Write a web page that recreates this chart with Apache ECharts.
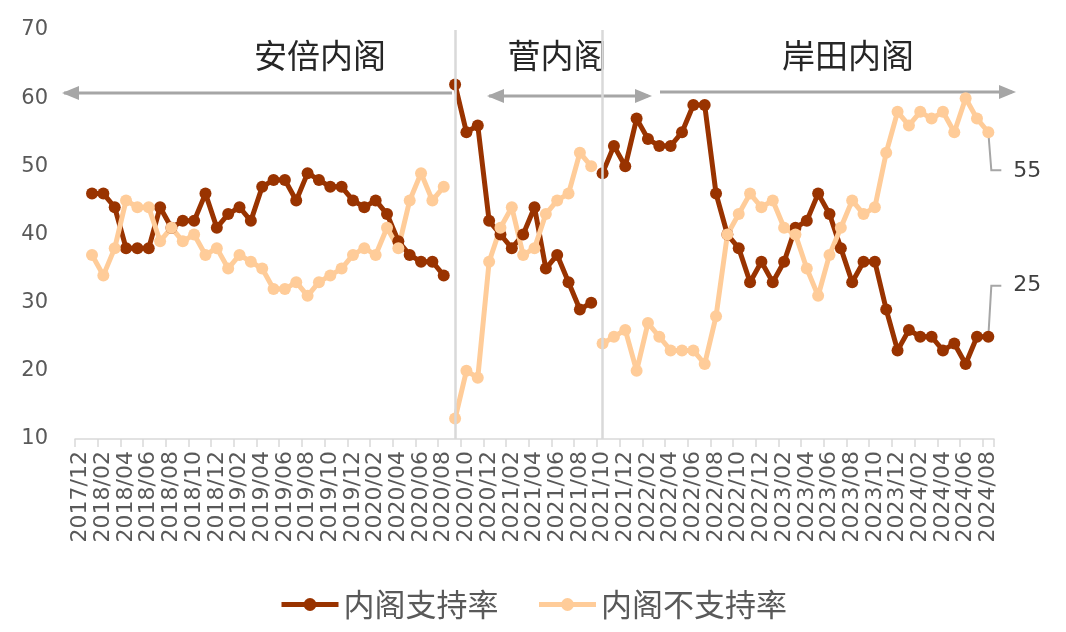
<!DOCTYPE html>
<html>
<head>
<meta charset="utf-8">
<script src="https://cdn.jsdelivr.net/npm/echarts@6/dist/echarts.min.js"></script>
<style>
  html, body { margin: 0; padding: 0; background: #fff; }
  #chart { width: 1066px; height: 632px; }
</style>
</head>
<body>
<div id="chart"></div>
<script>
// 月份（2017/12 - 2024/08）
const months = [
  '2017/12',
  '2018/01','2018/02','2018/03','2018/04','2018/05','2018/06','2018/07','2018/08','2018/09','2018/10','2018/11','2018/12',
  '2019/01','2019/02','2019/03','2019/04','2019/05','2019/06','2019/07','2019/08','2019/09','2019/10','2019/11','2019/12',
  '2020/01','2020/02','2020/03','2020/04','2020/05','2020/06','2020/07','2020/08','2020/09','2020/10','2020/11','2020/12',
  '2021/01','2021/02','2021/03','2021/04','2021/05','2021/06','2021/07','2021/08','2021/09','2021/10','2021/11','2021/12',
  '2022/01','2022/02','2022/03','2022/04','2022/05','2022/06','2022/07','2022/08','2022/09','2022/10','2022/11','2022/12',
  '2023/01','2023/02','2023/03','2023/04','2023/05','2023/06','2023/07','2023/08','2023/09','2023/10','2023/11','2023/12',
  '2024/01','2024/02','2024/03','2024/04','2024/05','2024/06','2024/07','2024/08'
]

// 各内阁起始月份
const abeStart = '2018/01'
const sugaStart = '2020/09'
const kishidaStart = '2021/10'

// 安倍内阁 2018/01 - 2020/08
const abeSupport = [46,46,44,38,38,38,44,41,42,42,46,41,43,44,42,47,48,48,45,49,48,47,47,45,44,45,43,39,37,36,36,34]
const abeOppose  = [37,34,38,45,44,44,39,41,39,40,37,38,35,37,36,35,32,32,33,31,33,34,35,37,38,37,41,38,45,49,45,47]

// 菅内阁 2020/09 - 2021/09
const sugaSupport = [62,55,56,42,40,38,40,44,35,37,33,29,30]
const sugaOppose  = [13,20,19,36,41,44,37,38,43,45,46,52,50]

// 岸田内阁 2021/10 - 2024/08
const kishidaSupport = [49,53,50,57,54,53,53,55,59,59,46,40,38,33,36,33,36,41,42,46,43,38,33,36,36,29,23,26,25,25,23,24,21,25,25]
const kishidaOppose  = [24,25,26,20,27,25,23,23,23,21,28,40,43,46,44,45,41,40,35,31,37,41,45,43,44,52,58,56,58,57,58,55,60,57,55]

const cabinetNames = ['安倍内阁', '菅内阁', '岸田内阁']
const seriesNames = ['内阁支持率', '内阁不支持率']

const darkColor = '#993300'
const lightColor = '#ffcc99'
const grayText = '#595959'

function pad(start, vals) {
  const idx = months.indexOf(start)
  return new Array(idx).fill(null).concat(vals)
}

function lineSeries(name, color, start, vals, extra) {
  return Object.assign({
    name: name,
    type: 'line',
    data: pad(start, vals),
    symbol: 'circle',
    symbolSize: 12,
    showSymbol: true,
    showAllSymbol: true,
    connectNulls: false,
    lineStyle: { width: 5, color: color },
    itemStyle: { color: color },
    emphasis: { disabled: true },
    animation: false
  }, extra || {})
}

const chart = echarts.init(document.getElementById('chart'))

chart.setOption({
  animation: false,
  textStyle: { fontFamily: '"DejaVu Sans", "Noto Sans CJK SC", sans-serif' },
  grid: { left: 75, right: 72, top: 30, bottom: 193 },
  legend: {
    data: seriesNames,
    bottom: 7,
    left: 'center',
    itemWidth: 57,
    itemHeight: 16,
    itemGap: 38,
    lineStyle: { width: 5 },
    textStyle: { fontSize: 31, color: grayText, fontFamily: '"Noto Sans CJK SC", sans-serif' }
  },
  xAxis: {
    type: 'category',
    data: months,
    boundaryGap: true,
    axisLine: { lineStyle: { color: '#d9d9d9', width: 1.5 } },
    axisTick: { show: true, interval: 1, length: 8, lineStyle: { color: '#d9d9d9', width: 1.5 } },
    axisLabel: {
      interval: 1,
      rotate: 90,
      fontSize: 22,
      color: grayText,
      margin: 12,
      fontFamily: '"DejaVu Sans", sans-serif'
    },
    splitLine: { show: false }
  },
  yAxis: {
    type: 'value',
    min: 10,
    max: 70,
    interval: 10,
    axisLine: { show: false },
    axisTick: { show: false },
    splitLine: { show: false },
    axisLabel: { fontSize: 21, color: grayText, margin: 27, fontFamily: '"DejaVu Sans", sans-serif' }
  },
  series: [
    lineSeries(seriesNames[0], darkColor, abeStart, abeSupport, {
      markLine: {
        silent: true,
        symbol: ['none', 'none'],
        label: { show: false },
        lineStyle: { color: '#d9d9d9', width: 2.5, type: 'solid' },
        data: [{ xAxis: sugaStart }, { xAxis: kishidaStart }]
      }
    }),
    lineSeries(seriesNames[0], darkColor, sugaStart, sugaSupport),
    lineSeries(seriesNames[0], darkColor, kishidaStart, kishidaSupport),
    lineSeries(seriesNames[1], lightColor, abeStart, abeOppose),
    lineSeries(seriesNames[1], lightColor, sugaStart, sugaOppose),
    lineSeries(seriesNames[1], lightColor, kishidaStart, kishidaOppose)
  ]
})

// 注释：内阁区间箭头、名称、末值标签
const arrowColor = '#a6a6a6'
function arrowHead(x, y, dir) {
  // dir: -1 指向左, 1 指向右
  return {
    type: 'polygon',
    silent: true,
    shape: { points: [[x, y], [x - dir * 17, y - 7], [x - dir * 17, y + 7]] },
    style: { fill: arrowColor }
  }
}
function hLine(x1, x2, y) {
  return {
    type: 'line',
    silent: true,
    shape: { x1: x1, y1: y, x2: x2, y2: y },
    style: { stroke: arrowColor, lineWidth: 3 }
  }
}
function title(text, x) {
  return {
    type: 'text',
    silent: true,
    x: x,
    y: 55,
    style: {
      text: text,
      fontSize: 33,
      fill: '#262626',
      align: 'center',
      verticalAlign: 'middle',
      fontFamily: '"Noto Sans CJK SC", sans-serif'
    }
  }
}

const lastMonth = months[months.length - 1]
const lastSupport = kishidaSupport[kishidaSupport.length - 1]
const lastOppose = kishidaOppose[kishidaOppose.length - 1]
const pSupport = chart.convertToPixel({ xAxisIndex: 0, yAxisIndex: 0 }, [lastMonth, lastSupport])
const pOppose = chart.convertToPixel({ xAxisIndex: 0, yAxisIndex: 0 }, [lastMonth, lastOppose])

function leader(p, dy) {
  return {
    type: 'polyline',
    silent: true,
    shape: { points: [[p[0], p[1]], [p[0] + 3, p[1] + dy], [p[0] + 13, p[1] + dy]] },
    style: { stroke: arrowColor, lineWidth: 2, fill: null }
  }
}
function endLabel(text, p, dy) {
  return {
    type: 'text',
    silent: true,
    x: p[0] + 25,
    y: p[1] + dy,
    style: {
      text: text,
      fontSize: 22,
      fill: '#404040',
      align: 'left',
      verticalAlign: 'middle',
      fontFamily: '"DejaVu Sans", sans-serif'
    }
  }
}

chart.setOption({
  graphic: [
    hLine(64, 452, 93), arrowHead(62, 93, -1),
    hLine(489, 648, 96), arrowHead(487, 96, -1), arrowHead(652, 96, 1),
    hLine(660, 1012, 92), arrowHead(1016, 92, 1),
    title(cabinetNames[0], 320),
    title(cabinetNames[1], 557),
    title(cabinetNames[2], 848),
    leader(pOppose, 38), endLabel(String(lastOppose), pOppose, 39),
    leader(pSupport, -51), endLabel(String(lastSupport), pSupport, -51)
  ]
})
</script>
</body>
</html>
